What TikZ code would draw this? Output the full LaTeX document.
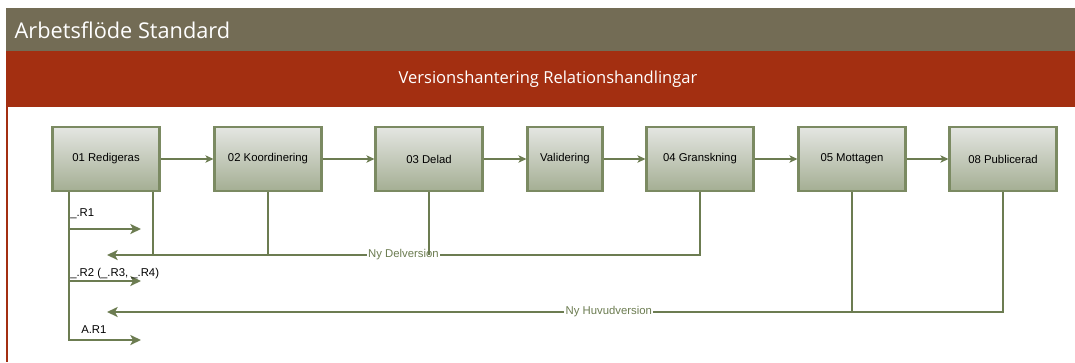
\documentclass[tikz,border=0pt]{standalone}
\usepackage{fontspec}
\setmainfont{Liberation Sans}
\newfontfamily\headfont{Open Sans}
\usetikzlibrary{positioning,arrows.meta}
\definecolor{bandgray}{HTML}{736C55}
\definecolor{bandred}{HTML}{A32F11}
\definecolor{flowgreen}{HTML}{6C7C51}
\definecolor{boxline}{HTML}{7B8A62}
\definecolor{boxtop}{HTML}{E4E6E2}
\definecolor{boxbottom}{HTML}{A4AE93}
\tikzset{
    stepbox/.style={draw=boxline,line width=1.8pt,top color=boxtop,bottom color=boxbottom,
        minimum width=80pt,minimum height=48pt,inner sep=0pt,
        font=\fontsize{8.5}{10}\selectfont},
    flowline/.style={draw=flowgreen,line width=1.4pt},
    flowarrow/.style={flowline,-{Stealth[length=8pt,width=7.5pt,inset=2pt]}},
    steparrow/.style={flowline,-{Stealth[length=6pt,width=5.5pt,inset=1.5pt]}},
    revlabel/.style={font=\fontsize{8.5}{10}\selectfont,anchor=west,inner sep=0pt},
    linelabel/.style={font=\fontsize{8.5}{10}\selectfont,text=flowgreen,fill=white,inner sep=1pt},
}
\begin{document}
\begin{tikzpicture}[x=0.75pt,y=-0.75pt]
    \useasboundingbox (0,0) rectangle (1075,362);
    % header bands
    \fill[bandgray] (6,8) rectangle (1075,51);
    \fill[bandred] (6,51) rectangle (1075,107);
    \draw[bandred,line width=1.5pt] (7,107) -- (7,362);
    \node[anchor=west,text=white,font=\headfont\fontsize{16.3}{19}\selectfont] (title) at (10,30) {Arbetsflöde Standard};
    \node[text=white,font=\headfont\fontsize{12.4}{15}\selectfont] (subtitle) at (548,79) {Versionshantering Relationshandlingar};

    % steps
    \node[stepbox] (redig) at (106,159) {01 Redigeras};
    \node[stepbox] (koord) at (268,159) {02 Koordinering};
    \node[stepbox] (delad) at (429,159) {03 Delad};
    \node[stepbox,minimum width=56pt] (valid) at (565,159) {Validering};
    \node[stepbox] (gransk) at (700,159) {04 Granskning};
    \node[stepbox] (mottag) at (852,159) {05 Mottagen};
    \node[stepbox] (publ) at (1003,159) {08 Publicerad};
    \draw[steparrow] (redig) -- (koord);
    \draw[steparrow] (koord) -- (delad);
    \draw[steparrow] (delad) -- (valid);
    \draw[steparrow] (valid) -- (gransk);
    \draw[steparrow] (gransk) -- (mottag);
    \draw[steparrow] (mottag) -- (publ);

    % new versions back to 01
    \coordinate (delvtip) at (107,255);
    \coordinate (huvtip) at (107,312);
    \draw[flowarrow] (gransk.south) |- node[linelabel,pos=0.75]{Ny Delversion} (delvtip);
    \draw[flowline] (delad.south) -- (delad.south |- delvtip);
    \draw[flowline] (koord.south) -- (koord.south |- delvtip);
    \coordinate (rdrop) at ([xshift=-5.5pt]redig.south east);
    \draw[flowline] (rdrop) -- (rdrop |- delvtip);
    \draw[flowarrow] (publ.south) |- node[linelabel,pos=0.72]{Ny Huvudversion} (huvtip);
    \draw[flowline] (mottag.south) -- (mottag.south |- huvtip);

    % revisions
    \coordinate (trunk) at ([xshift=13.25pt]redig.south west);
    \coordinate (r1end) at (141,229);
    \coordinate (r2end) at (141,281);
    \coordinate (a1end) at (141,340);
    \draw[flowarrow] (trunk) |- (a1end);
    \draw[flowarrow] (trunk |- r1end) -- (r1end);
    \draw[flowarrow] (trunk |- r2end) -- (r2end);
    \node[revlabel] (r1lbl) at (70,214) {\_.R1};
    \node[revlabel] (r2lbl) at (70,274) {\_.R2 (\_.R3, \_.R4)};
    \node[revlabel] (a1lbl) at (81,330) {A.R1};
\end{tikzpicture}
\end{document}
